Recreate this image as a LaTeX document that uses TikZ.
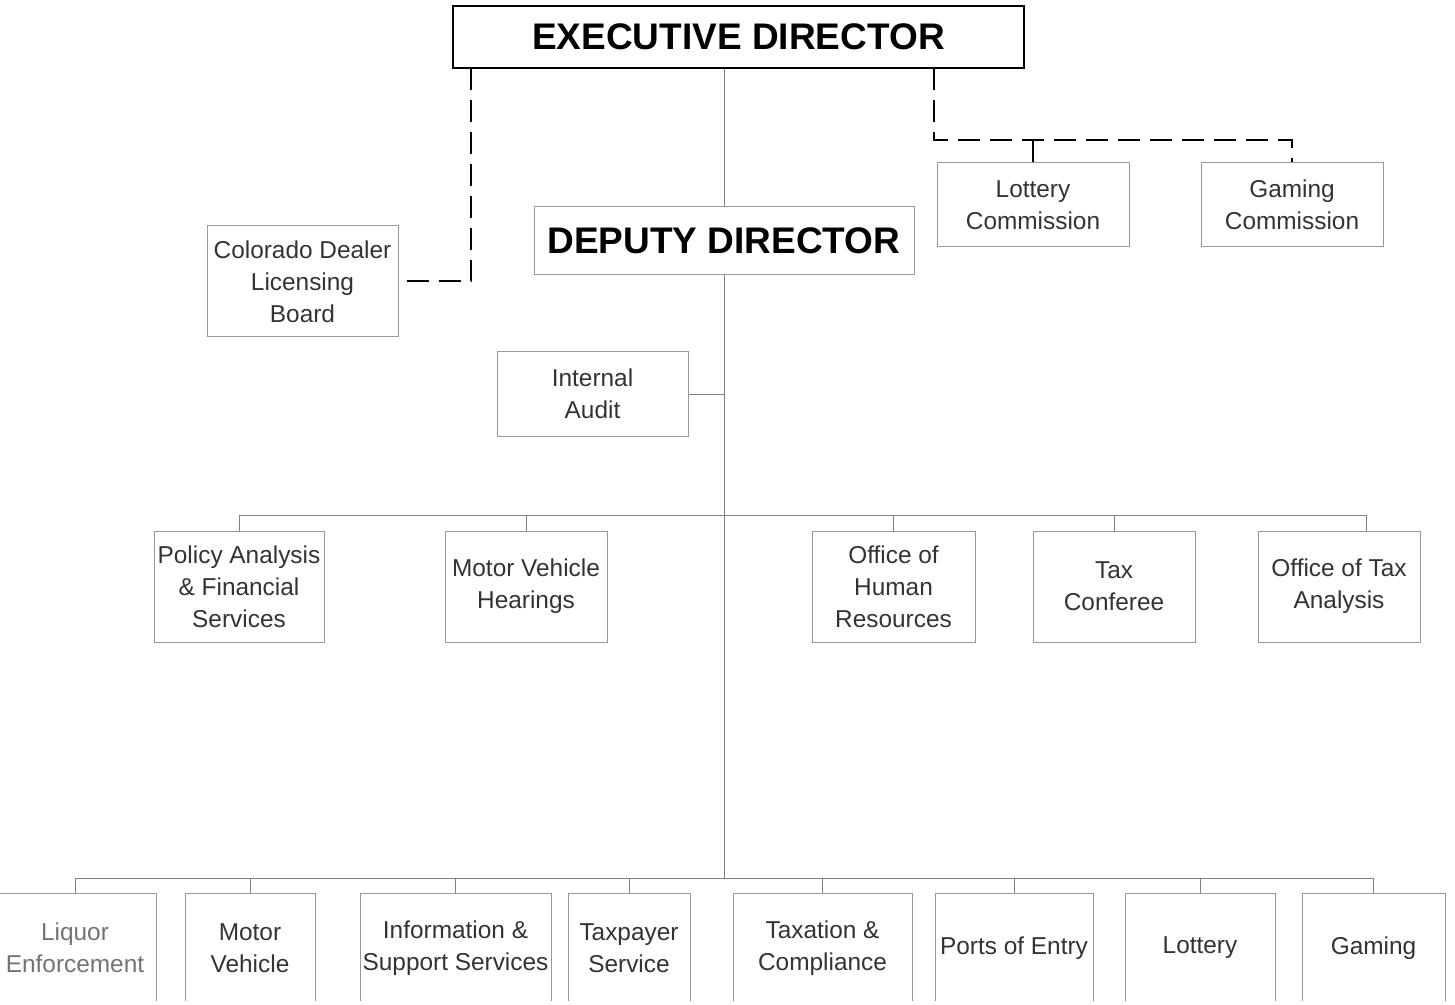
\documentclass[tikz,border=0pt]{standalone}
\usepackage{fontspec}
\setmainfont{Liberation Sans}
\usetikzlibrary{positioning}
\tikzset{
unit/.style={draw=black!40, line width=0.5pt, align=center, inner sep=1pt, text=black!80,
  font=\fontsize{12.2}{16}\selectfont}, % ordinary office box
chief/.style={unit, font=\fontsize{18.5}{22}\selectfont\bfseries, text=black}, % director box
orgline/.style={draw=black!50, line width=0.5pt}, % solid reporting line
advline/.style={draw=black, line width=1pt, dash pattern=on 11pt off 5pt}, % dashed advisory line
}

\begin{document}
\begin{tikzpicture}[x=0.5pt,y=-0.5pt]
  \clip (0,0) rectangle (1455,1005);
  % top of the chart
  \node[chief, draw=black, line width=1pt, minimum width=285.5pt, minimum height=31pt] (exec) at (738.5,37) {EXECUTIVE DIRECTOR};
  \node[chief, minimum width=190pt, minimum height=34pt] (dep) at (724,241) {DEPUTY DIRECTOR};
  \node[unit, minimum width=95.5pt, minimum height=55.5pt] (colo) at (302.5,281.5) {Colorado Dealer\\Licensing\\Board};
  \node[unit, minimum width=96pt, minimum height=42pt] (lotc) at (1033,205) {Lottery\\Commission};
  \node[unit, minimum width=91pt, minimum height=42pt] (gamc) at (1292,205) {Gaming\\Commission};
  \node[unit, minimum width=95.5pt, minimum height=42pt] (aud) at (592.5,394) {Internal\\Audit};

  % staff offices
  \node[unit, minimum width=85pt, minimum height=55.5pt] (pol) at (239,586.5) {Policy Analysis\\\& Financial\\Services};
  \node[unit, minimum width=81pt, minimum height=55.5pt] (mvh) at (526,586.5) {Motor Vehicle\\Hearings};
  \node[unit, minimum width=81.5pt, minimum height=55.5pt] (ohr) at (893.5,586.5) {Office of\\Human\\Resources};
  \node[unit, minimum width=81pt, minimum height=55.5pt] (tcf) at (1114,586.5) {Tax\\Conferee};
  \node[unit, minimum width=81pt, minimum height=55.5pt] (ota) at (1339,586.5) {Office of Tax\\Analysis};

  % divisions
  \begin{scope}
    \clip (-10,0) rectangle (1465,1000);
    \node[unit, minimum width=81pt, minimum height=55pt, text=black!55] (liq) at (75,948) {Liquor\\Enforcement};
    \node[unit, minimum width=65pt, minimum height=55pt] (mv) at (250,948) {Motor\\Vehicle};
    \node[unit, minimum width=95.5pt, minimum height=55pt] (inf) at (455.5,948) {\raisebox{-2pt}{Information \&}\\\raisebox{-2pt}{Support Services}};
    \node[unit, minimum width=61pt, minimum height=55pt] (tpy) at (629,948) {Taxpayer\\Service};
    \node[unit, minimum width=89.5pt, minimum height=55pt] (txc) at (822.5,948) {\raisebox{-2pt}{Taxation \&}\\\raisebox{-2pt}{Compliance}};
    \node[unit, minimum width=79pt, minimum height=55pt] (poe) at (1014,948) {Ports of Entry};
    \node[unit, minimum width=75pt, minimum height=55pt] (ltr) at (1200,948) {Lottery};
    \node[unit, minimum width=71.5pt, minimum height=55pt] (gmg) at (1373.5,948) {Gaming};
  \end{scope}

  % dashed lines
  \coordinate (lft) at (471,68);
  \coordinate (rgt) at (934,68);
  \coordinate (rbus) at (934,140);
  \draw[advline] (lft) |- (colo.east);
  \draw[advline] (rgt) -- (rbus) -| (gamc.north);
  \draw[advline] (rbus -| lotc.north) -- (lotc.north);

  % reporting lines
  \path (dep.south) ++(0,240) coordinate (midbus) ++(0,363) coordinate (botbus);
  \draw[orgline] (exec.south -| dep.north) -- (dep.north);
  \draw[orgline] (dep.south) -- (botbus);
  \draw[orgline] (aud.east) -- (aud.east -| dep.south);
  \foreach \n in {pol,mvh,ohr,tcf}
    \draw[orgline] (midbus) -| (\n.north);
  \draw[orgline] (midbus) -| ([xshift=13.5pt]ota.north);
  \foreach \n in {liq,mv,inf,tpy,txc,poe,ltr,gmg}
    \draw[orgline] (botbus) -| (\n.north);
\end{tikzpicture}
\end{document}
